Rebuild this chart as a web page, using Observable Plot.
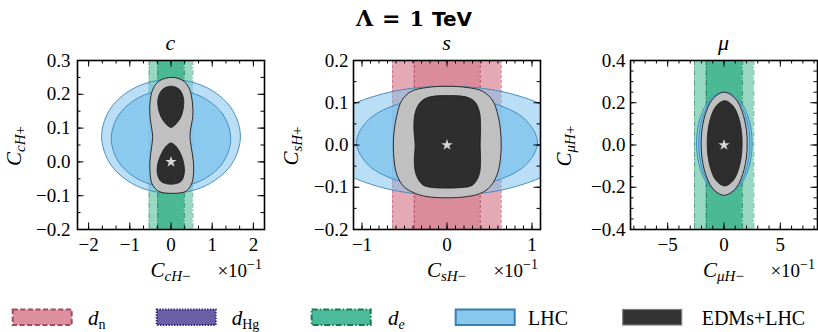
<!DOCTYPE html>
<html>
<head>
<meta charset="utf-8">
<script src="https://cdn.jsdelivr.net/npm/d3@7"></script>
<script src="https://cdn.jsdelivr.net/npm/@observablehq/plot@0.6"></script>
<style>
  html, body { margin: 0; padding: 0; background: #fff; }
  #fig { position: relative; width: 818px; height: 332px; overflow: hidden; background: #fff; }
  #fig svg { position: absolute; }
</style>
</head>
<body>
<div id="fig"></div>
<script>
// ---------- charm panel (x in units of 10^-1) ----------
const cDeOuter = [-0.53, 0.53];
const cDeInner = [-0.32, 0.32];
const cLhcOuter = [[1.685,0.0755],[1.459,0.1598],[0.843,0.2214],[0,0.244],[-0.843,0.2214],[-1.459,0.1598],
                   [-1.685,0.0755],[-1.459,-0.0088],[-0.843,-0.0704],[0,-0.093],[0.843,-0.0704],[1.459,-0.0088]];
const cLhcInner = [[1.45,0.069],[1.256,0.141],[0.725,0.1937],[0,0.213],[-0.725,0.1937],[-1.256,0.141],
                   [-1.45,0.069],[-1.256,-0.003],[-0.725,-0.0557],[0,-0.075],[0.725,-0.0557],[1.256,-0.003]];
const cComb2 = [[0.02,0.25],[0.30,0.24],[0.45,0.215],[0.52,0.175],[0.53,0.135],[0.48,0.10],[0.46,0.075],
                [0.49,0.045],[0.54,0.005],[0.55,-0.03],[0.50,-0.065],[0.36,-0.087],[0.05,-0.093],[-0.30,-0.087],
                [-0.46,-0.065],[-0.51,-0.03],[-0.51,0.005],[-0.47,0.045],[-0.445,0.075],[-0.47,0.10],
                [-0.51,0.135],[-0.51,0.175],[-0.44,0.215],[-0.28,0.24]];
const cComb1Upper = [[0,0.224],[0.20,0.215],[0.30,0.19],[0.30,0.16],[0.24,0.133],[0.12,0.112],[0,0.102],
                     [-0.12,0.112],[-0.24,0.133],[-0.31,0.16],[-0.31,0.19],[-0.20,0.215]];
const cComb1Lower = [[0,0.056],[0.12,0.046],[0.23,0.025],[0.31,-0.005],[0.32,-0.035],[0.24,-0.058],[0,-0.066],
                     [-0.24,-0.058],[-0.33,-0.035],[-0.32,-0.005],[-0.23,0.025],[-0.12,0.046]];
const cBest = [[0, 0]];
const cXTicks = [-2, -1, 0, 1, 2];
const cYTicks = [-0.2, -0.1, 0, 0.1, 0.2, 0.3];

// ---------- strange panel ----------
const sDnOuter = [-0.64, 0.64];
const sDnInner = [-0.385, 0.39];
const sLhcOuter = [[1.49,0.01],[1.29,0.0745],[0.745,0.1217],[0,0.139],[-0.745,0.1217],[-1.29,0.0745],
                   [-1.49,0.01],[-1.29,-0.0545],[-0.745,-0.1017],[0,-0.119],[0.745,-0.1017],[1.29,-0.0545]];
const sLhcInner = [[1.065,0.006],[0.922,0.06],[0.5325,0.0995],[0,0.114],[-0.5325,0.0995],[-0.922,0.06],
                   [-1.065,0.006],[-0.922,-0.048],[-0.5325,-0.0875],[0,-0.102],[0.5325,-0.0875],[0.922,-0.048]];
const sComb2 = [[0,0.139],[0.24,0.136],[0.42,0.127],[0.535,0.106],[0.60,0.07],[0.635,0.02],[0.63,-0.03],
                [0.59,-0.07],[0.51,-0.098],[0.40,-0.114],[0.24,-0.122],[0,-0.125],[-0.24,-0.122],[-0.38,-0.114],
                [-0.51,-0.098],[-0.59,-0.07],[-0.625,-0.03],[-0.628,0.02],[-0.59,0.07],[-0.53,0.106],
                [-0.42,0.127],[-0.24,0.136]];
const sComb1 = [[0.02,0.117],[0.22,0.114],[0.32,0.104],[0.38,0.08],[0.395,0.04],[0.39,0],[0.395,-0.04],
                [0.375,-0.072],[0.30,-0.095],[0.15,-0.101],[0,-0.102],[-0.15,-0.101],[-0.28,-0.095],
                [-0.36,-0.072],[-0.385,-0.04],[-0.375,0],[-0.39,0.04],[-0.37,0.08],[-0.30,0.104],[-0.20,0.114]];
const sBest = [[0, 0]];
const sXTicks = [-1, 0, 1];
const sYTicks = [-0.2, -0.1, 0, 0.1, 0.2];

// ---------- muon panel ----------
const muDeOuter = [-2.62, 2.65];
const muDeInner = [-1.57, 1.62];
const muLhcOuter = [[2.50,0.008],[2.169,0.1295],[1.265,0.2184],[0.03,0.251],[-1.205,0.2184],[-2.109,0.1295],
                    [-2.44,0.008],[-2.109,-0.1135],[-1.205,-0.2024],[0.03,-0.235],[1.265,-0.2024],[2.169,-0.1135]];
const muLhcInner = [[2.30,0.006],[1.996,0.125],[1.165,0.2121],[0.03,0.244],[-1.105,0.2121],[-1.936,0.125],
                    [-2.24,0.006],[-1.936,-0.113],[-1.105,-0.2001],[0.03,-0.232],[1.165,-0.2001],[1.996,-0.113]];
const muComb2 = [[2.06,0.006],[1.786,0.128],[1.0375,0.2173],[0.015,0.25],[-1.0075,0.2173],[-1.756,0.128],
                 [-2.03,0.006],[-1.756,-0.116],[-1.0075,-0.2053],[0.015,-0.238],[1.0375,-0.2053],[1.786,-0.116]];
const muComb1 = [[1.61,0.008],[1.402,0.109],[0.835,0.1829],[0.06,0.21],[-0.715,0.1829],[-1.282,0.109],
                 [-1.49,0.008],[-1.282,-0.093],[-0.715,-0.1669],[0.06,-0.194],[0.835,-0.1669],[1.402,-0.093]];
const muBest = [[0, 0]];
const muXTicks = [-5, 0, 5];
const muYTicks = [-0.4, -0.2, 0, 0.2, 0.4];

// ---------- legend ----------
const legendSub = ["n", "Hg", "e", null, null];
const legendText = ["d", "d", "d", "LHC", "EDMs+LHC"];

// ---------- styling ----------
const SERIF = "Liberation Serif";
const TICK_SIZE = 19;
const deStyle = {outer: "#96d8c2", inner: "#4cb995", edge: "#1f7d5c", dash: "5,2,1.2,2"};
const dnStyle = {outer: "#e4a9b5", inner: "#da8c9b", edge: "#ad4d66", dash: "3,2"};
const lhcFill = "#7fc3ec", lhcEdge = "#3c84b8";
const grayFill = "#c0c0c0", darkFill = "#2e2e2e";

const FW = 187, FH = 169, FTOP = 60;
const fig = document.getElementById("fig");

const minus = s => s.replace("-", "\u2212");
const fmtInt = d => minus(String(d));
const fmt1 = d => minus((Math.abs(d) < 1e-12 ? 0 : d).toFixed(1));

function panel(cfg) {
  const mL = 52, mR = 1, mT = 2, mB = 34;
  const [x0, x1] = cfg.xDomain, [y0, y1] = cfg.yDomain;
  const within = (v, a, b) => v >= a - 1e-9 && v <= b + 1e-9;
  const xMinor = d3.range(cfg.xMinor[0], cfg.xMinor[1] + 1e-9, cfg.xMinor[2]).filter(v => within(v, x0, x1));
  const yMinor = d3.range(cfg.yMinor[0], cfg.yMinor[1] + 1e-9, cfg.yMinor[2]).filter(v => within(v, y0, y1));
  const X = d => d[0], Y = d => d[1];
  const b = cfg.band;
  const marks = [
    Plot.rect([cfg.outer], {x1: d => d[0], x2: d => d[1], y1: y0, y2: y1, fill: b.outer}),
    Plot.rect([cfg.inner], {x1: d => d[0], x2: d => d[1], y1: y0, y2: y1, fill: b.inner}),
    Plot.ruleX(cfg.outer, {stroke: b.edge, strokeOpacity: 0.6, strokeWidth: 1, strokeDasharray: b.dash}),
    Plot.ruleX(cfg.inner, {stroke: b.edge, strokeWidth: 1, strokeDasharray: b.dash}),
    Plot.line(cfg.lhcOuter, {x: X, y: Y, curve: "catmull-rom-closed", fill: lhcFill, fillOpacity: 0.55,
      stroke: lhcEdge, strokeWidth: 0.9, clip: true}),
    Plot.line(cfg.lhcInner, {x: X, y: Y, curve: "catmull-rom-closed", fill: lhcFill, fillOpacity: 0.8,
      stroke: lhcEdge, strokeWidth: 0.9, clip: true}),
    Plot.line(cfg.comb2, {x: X, y: Y, curve: "catmull-rom-closed", fill: grayFill, stroke: "#2a2a2a",
      strokeWidth: 1, clip: true}),
    ...cfg.comb1.map(shape => Plot.line(shape, {x: X, y: Y, curve: "catmull-rom-closed", fill: darkFill,
      stroke: "#1a1a1a", strokeWidth: 0.8, clip: true})),
    Plot.dot(cfg.best, {x: X, y: Y, symbol: "star", r: 3.6, fill: "#d6d6d6", stroke: null}),
    // inward ticks on all four sides
    Plot.ruleX(xMinor, {insetTop: FH - 3.5, stroke: "#000", strokeWidth: 1}),
    Plot.ruleX(xMinor, {insetBottom: FH - 3.5, stroke: "#000", strokeWidth: 1}),
    Plot.ruleX(cfg.xTicks, {insetTop: FH - 6.5, stroke: "#000", strokeWidth: 1}),
    Plot.ruleX(cfg.xTicks, {insetBottom: FH - 6.5, stroke: "#000", strokeWidth: 1}),
    Plot.ruleY(yMinor, {insetRight: FW - 3.5, stroke: "#000", strokeWidth: 1}),
    Plot.ruleY(yMinor, {insetLeft: FW - 3.5, stroke: "#000", strokeWidth: 1}),
    Plot.ruleY(cfg.yTicks, {insetRight: FW - 6.5, stroke: "#000", strokeWidth: 1}),
    Plot.ruleY(cfg.yTicks, {insetLeft: FW - 6.5, stroke: "#000", strokeWidth: 1}),
    Plot.frame({stroke: "#000", strokeWidth: 1.6}),
    // tick labels
    Plot.text(cfg.xTicks, {x: d => d, frameAnchor: "bottom", lineAnchor: "top", dy: 8, text: fmtInt,
      fontSize: TICK_SIZE, fontFamily: SERIF, fill: "#000"}),
    Plot.text(cfg.yTicks, {y: d => d, frameAnchor: "left", textAnchor: "end", dx: -cfg.yPad, text: fmt1,
      fontSize: TICK_SIZE, fontFamily: SERIF, fill: "#000"})
  ];
  const svg = Plot.plot({
    width: mL + FW + mR, height: mT + FH + mB,
    marginLeft: mL, marginRight: mR, marginTop: mT, marginBottom: mB,
    x: {domain: cfg.xDomain, axis: null}, y: {domain: cfg.yDomain, axis: null},
    style: {background: "transparent", overflow: "visible"},
    marks
  });
  svg.style.left = (cfg.left - mL) + "px";
  svg.style.top = (FTOP - mT) + "px";
  fig.appendChild(svg);
}

panel({left: 77, xDomain: [-2.27, 2.27], yDomain: [-0.2, 0.3], xTicks: cXTicks, yTicks: cYTicks,
  xMinor: [-2, 2, 1 / 3], yMinor: [-0.2, 0.3, 0.05], yPad: 7,
  band: deStyle, outer: cDeOuter, inner: cDeInner, lhcOuter: cLhcOuter, lhcInner: cLhcInner,
  comb2: cComb2, comb1: [cComb1Upper, cComb1Lower], best: cBest});
panel({left: 353, xDomain: [-1.1, 1.1], yDomain: [-0.2, 0.2], xTicks: sXTicks, yTicks: sYTicks,
  xMinor: [-1.1, 1.1, 0.1], yMinor: [-0.2, 0.2, 0.05], yPad: 5,
  band: dnStyle, outer: sDnOuter, inner: sDnInner, lhcOuter: sLhcOuter, lhcInner: sLhcInner,
  comb2: sComb2, comb1: [sComb1], best: sBest});
panel({left: 630, xDomain: [-8.3, 8.3], yDomain: [-0.4, 0.4], xTicks: muXTicks, yTicks: muYTicks,
  xMinor: [-8, 8, 1], yMinor: [-0.4, 0.4, 0.05], yPad: 5,
  band: deStyle, outer: muDeOuter, inner: muDeInner, lhcOuter: muLhcOuter, lhcInner: muLhcInner,
  comb2: muComb2, comb1: [muComb1], best: muBest});

// ---------- text layer: titles, axis labels, legend ----------
const ov = d3.select(fig).append("svg")
  .attr("width", 818).attr("height", 332)
  .style("left", "0px").style("top", "0px");

function rich(x, y, parts, {anchor = "start", size = 19, rotate = false, family = SERIF} = {}) {
  const t = ov.append("text").attr("text-anchor", anchor).attr("font-family", family)
    .attr("font-size", size).attr("fill", "#000");
  if (rotate) t.attr("transform", `translate(${x},${y}) rotate(-90)`);
  else t.attr("x", x).attr("y", y);
  let shift = 0;
  for (const p of parts) {
    const s = p.shift || 0;
    const ts = t.append("tspan").text(p.t);
    if (s !== shift) ts.attr("dy", s - shift);
    if (p.i) ts.attr("font-style", "italic");
    if (p.size) ts.attr("font-size", p.size);
    if (p.family) ts.attr("font-family", p.family);
    if (p.weight) ts.attr("font-weight", p.weight);
    if (p.dx) ts.attr("dx", p.dx);
    shift = s;
  }
  return t;
}

// figure title
const boldSerif = "DejaVu Serif";
rich(414, 26, [
  {t: "\u039B", weight: "bold", family: boldSerif, size: 22},
  {t: "=", weight: "bold", family: boldSerif, size: 22, dx: 9},
  {t: "1", weight: "bold", family: boldSerif, size: 21, dx: 9},
  {t: "TeV", weight: "bold", family: "DejaVu Sans", size: 20, dx: 8}
], {anchor: "middle", size: 20});

// panel titles
const panelNames = [["c", 170.5], ["s", 446.5], ["\u03BC", 723.5]];
for (const [n, x] of panelNames) rich(x, 50, [{t: n, i: true}], {anchor: "middle", size: 22});

// axis labels
const flav = [["c", 170.5, 262, 21], ["s", 446.5, 538, 298], ["\u03BC", 723.5, 815, 571]];
for (const [f, cx, rx, ly] of flav) {
  rich(cx, 277, [{t: "C", i: true}, {t: f + "H", i: true, size: 15, shift: 4}, {t: "\u2212", size: 15, shift: 4}],
    {anchor: "middle", size: 21});
  rich(rx, 277, [{t: "\u00D710"}, {t: "\u22121", size: 14, shift: -8}], {anchor: "end", size: 19});
  rich(ly, 146, [{t: "C", i: true}, {t: f + "H", i: true, size: 15, shift: 4}, {t: "+", size: 15, shift: 4}],
    {anchor: "middle", size: 21, rotate: true});
}

// legend
const swX = [12.7, 156.7, 311.7, 455.7, 622.7];
const lbX = [88, 231.7, 388, 528, 701.7];
const swFill = ["#dc8f9e", "#6b5fa8", "#4dbb9b", "#88c8ec", "#333333"];
const swEdge = ["#a8485f", "#2c2377", "#167a56", "#3a7fb3", "#7d7d7d"];
const swDash = ["5,2.6", "1.4,1.4", "6,2,1.5,2", null, null];
const swWidth = [2, 2, 2, 2, 1.2];
legendText.forEach((txt, i) => {
  const r = ov.append("rect").attr("x", swX[i]).attr("y", 309.5).attr("width", 59).attr("height", 15.5)
    .attr("fill", swFill[i]).attr("stroke", swEdge[i]).attr("stroke-width", swWidth[i]);
  if (swDash[i]) r.attr("stroke-dasharray", swDash[i]);
  const sub = legendSub[i];
  if (txt === "d") {
    rich(lbX[i], 325, [{t: "d", i: true}, {t: sub, size: 14, shift: 4, i: sub === "e"}], {size: 21});
  } else {
    rich(lbX[i], 325, [{t: txt}], {size: 20});
  }
});
</script>
</body>
</html>
